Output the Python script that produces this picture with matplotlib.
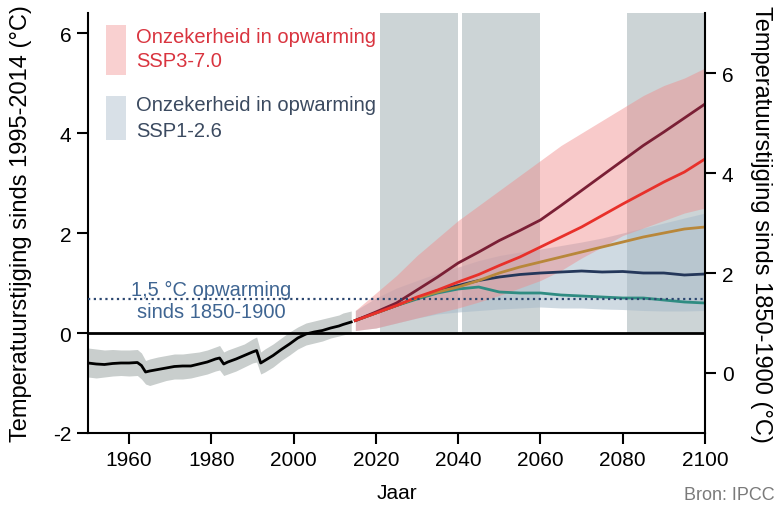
import matplotlib
matplotlib.use("Agg")
from matplotlib import pyplot as plt
from matplotlib.patches import Rectangle

plt.rcParams["font.family"] = ["Liberation Sans", "DejaVu Sans"]
plt.rcParams["axes.unicode_minus"] = False

# historical (relative to 1995-2014)
hist_years = [1950, 1952, 1954, 1956, 1958, 1960, 1962, 1963, 1964, 1965, 1967, 1969,
              1971, 1973, 1975, 1977, 1979, 1981, 1982, 1983, 1984, 1986, 1988, 1990,
              1991, 1992, 1993, 1995, 1997, 1999, 2001, 2003, 2005, 2007, 2009, 2011,
              2012, 2014]
hist_mean = [-0.60, -0.62, -0.63, -0.61, -0.60, -0.60, -0.59, -0.65, -0.78, -0.76, -0.73, -0.70,
             -0.67, -0.66, -0.66, -0.62, -0.58, -0.52, -0.50, -0.62, -0.58, -0.52, -0.45, -0.38,
             -0.35, -0.60, -0.55, -0.45, -0.33, -0.22, -0.10, -0.02, 0.02, 0.05, 0.10, 0.14,
             0.17, 0.22]
hist_lo = [-0.88, -0.90, -0.88, -0.86, -0.85, -0.86, -0.85, -0.92, -1.02, -1.05, -1.00, -0.95,
           -0.92, -0.92, -0.90, -0.86, -0.82, -0.76, -0.74, -0.85, -0.82, -0.76, -0.68, -0.60,
           -0.58, -0.82, -0.78, -0.68, -0.55, -0.44, -0.32, -0.24, -0.20, -0.16, -0.10, -0.06,
           -0.04, 0.00]
hist_hi = [-0.30, -0.32, -0.34, -0.33, -0.34, -0.34, -0.33, -0.40, -0.55, -0.52, -0.48, -0.45,
           -0.42, -0.42, -0.40, -0.38, -0.34, -0.28, -0.25, -0.38, -0.34, -0.28, -0.22, -0.12,
           -0.08, -0.38, -0.32, -0.22, -0.10, 0.02, 0.12, 0.20, 0.24, 0.28, 0.32, 0.36,
           0.40, 0.44]

# projections
fut_years = [2015, 2020, 2025, 2030, 2035, 2040, 2045, 2050, 2055, 2060,
             2065, 2070, 2075, 2080, 2085, 2090, 2095, 2100]
ssp585 = [0.25, 0.42, 0.60, 0.86, 1.12, 1.40, 1.62, 1.85, 2.05, 2.26,
          2.55, 2.85, 3.15, 3.45, 3.75, 4.02, 4.30, 4.58]
ssp370 = [0.25, 0.40, 0.55, 0.72, 0.86, 1.02, 1.17, 1.35, 1.52, 1.72,
          1.92, 2.12, 2.35, 2.58, 2.80, 3.02, 3.22, 3.48]
ssp245 = [0.25, 0.40, 0.55, 0.70, 0.82, 0.92, 1.05, 1.20, 1.32, 1.42,
          1.52, 1.62, 1.72, 1.82, 1.92, 2.00, 2.08, 2.12]
ssp126 = [0.25, 0.40, 0.55, 0.70, 0.85, 0.95, 1.05, 1.12, 1.17, 1.20,
          1.22, 1.24, 1.22, 1.23, 1.20, 1.20, 1.16, 1.18]
ssp119 = [0.25, 0.40, 0.55, 0.68, 0.80, 0.88, 0.92, 0.82, 0.80, 0.80,
          0.76, 0.74, 0.72, 0.70, 0.70, 0.66, 0.62, 0.60]

ssp370_lo = [0.05, 0.10, 0.20, 0.30, 0.40, 0.50, 0.62, 0.75, 0.90, 1.05,
             1.25, 1.50, 1.72, 1.95, 2.10, 2.25, 2.40, 2.50]
ssp370_hi = [0.45, 0.80, 1.15, 1.55, 1.90, 2.25, 2.55, 2.85, 3.15, 3.45,
             3.75, 4.00, 4.25, 4.50, 4.75, 4.95, 5.10, 5.30]
ssp126_lo = [0.05, 0.10, 0.20, 0.30, 0.38, 0.42, 0.45, 0.48, 0.50, 0.52,
             0.50, 0.50, 0.48, 0.47, 0.45, 0.44, 0.44, 0.45]
ssp126_hi = [0.45, 0.70, 0.90, 1.05, 1.20, 1.32, 1.45, 1.55, 1.62, 1.68,
             1.75, 1.82, 1.90, 2.00, 2.10, 2.20, 2.30, 2.40]

periods = [(2021, 2040), (2041, 2060), (2081, 2100)]
level_15 = 0.68   # 1.5 degC since 1850-1900, on the left scale
offset = 0.8      # right scale = left scale + offset

ylim = (-2, 6.4)

fig = plt.figure(figsize=(7.82, 5.06), dpi=100)
ax = fig.add_axes([0.1125, 0.1423, 0.789, 0.830])
ax.set_xlim(1950, 2100)
ax.set_ylim(*ylim)

# period bands from 0 up to the top
for a, b in periods:
    ax.fill_between([a, b], 0, ylim[1], color="#ccd4d6", lw=0, zorder=0)

# historical
ax.fill_between(hist_years, hist_lo, hist_hi, color="#c9cecd", lw=0, zorder=1)
ax.plot(hist_years, hist_mean, color="black", lw=2, zorder=5)

# uncertainty
ax.fill_between(fut_years, ssp126_lo, ssp126_hi, color="#a9bccb", alpha=0.55, lw=0, zorder=2)
ax.fill_between(fut_years, ssp370_lo, ssp370_hi, color="#f08a8a", alpha=0.45, lw=0, zorder=2)

ax.plot(fut_years, ssp119, color="#2f8c82", lw=2, zorder=4)
ax.plot(fut_years, ssp126, color="#24375a", lw=2, zorder=4)
ax.plot(fut_years, ssp245, color="#b8873a", lw=2, zorder=4)
ax.plot(fut_years, ssp585, color="#7a1f35", lw=2, zorder=4)
ax.plot(fut_years, ssp370, color="#e8302a", lw=2, zorder=4)

ax.axhline(0, color="black", lw=2, zorder=6)
ax.axhline(level_15, color="#2c4770", lw=1.6, ls=(0, (1, 1.6)), zorder=6)

ax.text(1980, level_15 + 0.2, "1,5 °C opwarming", color="#3f6592", fontsize=14.5,
        ha="center", va="center")
ax.text(1980, level_15 - 0.24, "sinds 1850-1900", color="#3f6592", fontsize=14.5,
        ha="center", va="center")

# legend
ax.add_patch(Rectangle((0.029, 0.852), 0.033, 0.119, transform=ax.transAxes,
                       color="#f08a8a", alpha=0.4, lw=0))
ax.add_patch(Rectangle((0.029, 0.698), 0.033, 0.104, transform=ax.transAxes,
                       color="#a9bccb", alpha=0.45, lw=0))
ax.text(0.078, 0.945, "Onzekerheid in opwarming", transform=ax.transAxes,
        color="#d9343f", fontsize=14.5, va="center")
ax.text(0.078, 0.886, "SSP3-7.0", transform=ax.transAxes,
        color="#d9343f", fontsize=14.5, va="center")
ax.text(0.078, 0.781, "Onzekerheid in opwarming", transform=ax.transAxes,
        color="#3b4a60", fontsize=14.5, va="center")
ax.text(0.078, 0.721, "SSP1-2.6", transform=ax.transAxes,
        color="#3b4a60", fontsize=14.5, va="center")

ax.set_xticks([1960, 1980, 2000, 2020, 2040, 2060, 2080, 2100])
ax.set_yticks([-2, 0, 2, 4, 6])
ax.tick_params(labelsize=15, length=8, width=1.5, pad=4)
ax.spines["top"].set_visible(False)
ax.spines["right"].set_visible(False)
for s in ["left", "bottom"]:
    ax.spines[s].set_linewidth(1.5)
ax.set_xlabel("Jaar", fontsize=15, labelpad=10)
ax.set_ylabel("Temperatuurstijging sinds 1995-2014 (°C)", fontsize=17, labelpad=15)

ax2 = ax.twinx()
ax2.set_ylim(ylim[0] + offset, ylim[1] + offset)
ax2.set_yticks([0, 2, 4, 6])
ax2.tick_params(labelsize=15, length=8, width=1.5, pad=4)
for s in ["top", "left", "bottom"]:
    ax2.spines[s].set_visible(False)
ax2.spines["right"].set_linewidth(1.5)
ax2.set_ylabel("Temperatuurstijging sinds 1850-1900 (°C)", fontsize=17,
               rotation=-90, labelpad=28)

fig.text(0.99, 0.012, "Bron: IPCC", color="#7a7a7a", fontsize=13, ha="right")

fig.savefig("out.png", dpi=100)
